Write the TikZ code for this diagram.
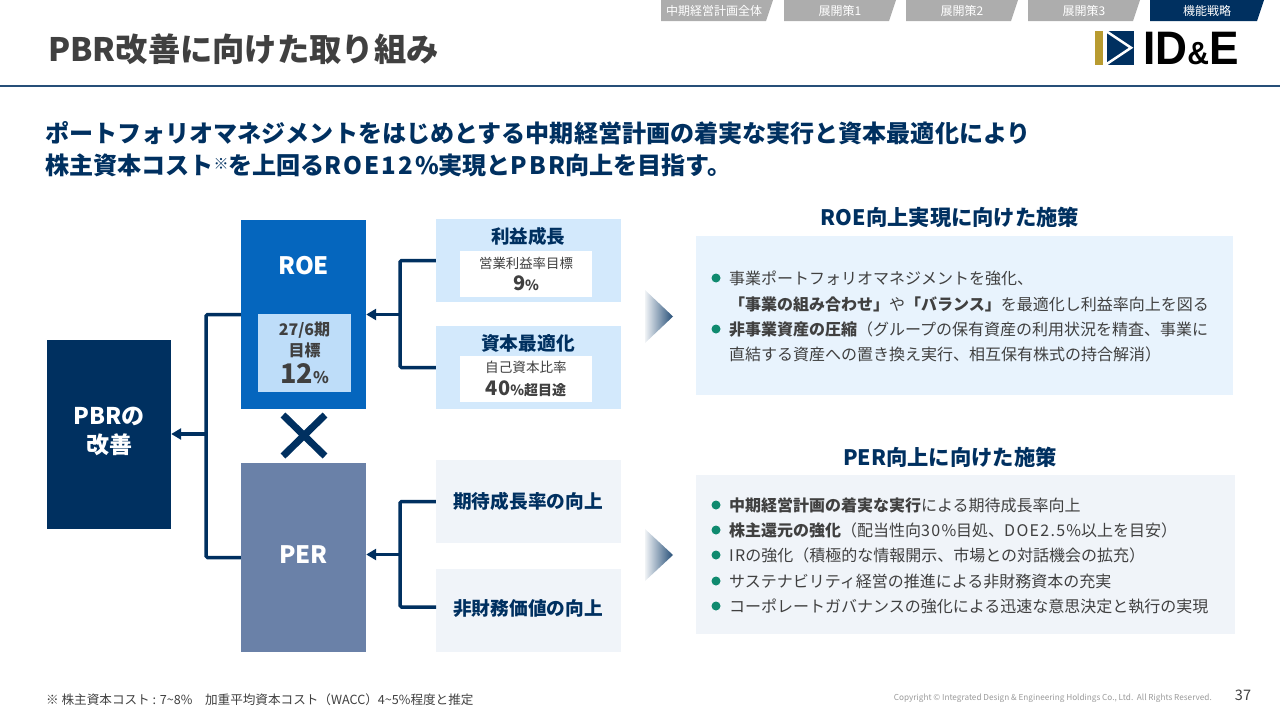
\documentclass[tikz,border=0pt]{standalone}
\usepackage{fontspec}
\setmainfont{Noto Sans CJK JP}
\newfontfamily\logofont{Liberation Sans}
\usetikzlibrary{arrows.meta}
\definecolor{navy}{HTML}{003060}
\definecolor{roeblue}{HTML}{0566BE}
\definecolor{perblue}{HTML}{6A81A8}
\definecolor{targetblue}{HTML}{BEDDF9}
\definecolor{lightblue}{HTML}{D3E9FC}
\definecolor{lightgray}{HTML}{F0F4F9}
\definecolor{panelblue}{HTML}{E8F3FD}
\definecolor{tabgray}{HTML}{ADADAD}
\definecolor{textgray}{HTML}{404040}
\definecolor{dotgreen}{HTML}{0F8A6F}
\definecolor{logogold}{HTML}{B89B30}
\newcommand{\fs}[1]{\fontsize{#1}{#1}\selectfont}
\newcommand{\wide}[1]{{\addfontfeature{LetterSpace=8}#1}}
\begin{document}
\begin{tikzpicture}[x=1pt,y=-1pt]
\tikzset{bigbox/.style={inner sep=0pt, minimum width=125pt, minimum height=189pt, text=white, align=center, font=\fs{24}\bfseries},
  sidebox/.style={inner sep=0pt, minimum width=185pt, minimum height=83pt},
  sidetext/.style={inner sep=0pt, text=navy, font=\fs{18.7}\bfseries},
  whitebox/.style={fill=white, inner sep=0pt, minimum width=132pt, minimum height=46pt, text=textgray},
  tabtext/.style={inner sep=0pt, text=white, font=\fs{12}},
  headtext/.style={inner sep=0pt, anchor=west, text=navy, font=\fs{24.07}\bfseries},
  paneltitle/.style={inner sep=0pt, text=navy, font=\fs{21.3}\bfseries},
  panelbox/.style={inner sep=0pt, minimum height=159pt},
  itemtext/.style={inner sep=0pt, anchor=west, text=textgray, font=\fs{16}},
  dot/.style={circle, fill=dotgreen, inner sep=0pt, minimum size=9pt},
  branch/.style={draw=navy, line width=3.5pt, rounded corners=1.5pt},
  tipline/.style={draw=navy, line width=3.5pt, -{Triangle[length=10pt,width=11pt]}}}
\useasboundingbox (0,0) rectangle (1280,720);
% header
\fill[tabgray] (661,0) -- (773,0) -- (766,21) -- (661,21) -- cycle;
\fill[tabgray] (784,0) -- (896,0) -- (889,21) -- (784,21) -- cycle;
\fill[tabgray] (906,0) -- (1018,0) -- (1011,21) -- (906,21) -- cycle;
\fill[tabgray] (1028,0) -- (1140,0) -- (1133,21) -- (1028,21) -- cycle;
\fill[navy] (1150,0) -- (1264,0) -- (1257,21) -- (1150,21) -- cycle;
\node[tabtext] (tab1) at (714,10.5) {中期経営計画全体};
\node[tabtext] (tab2) at (840,10.5) {展開策1};
\node[tabtext] (tab3) at (962,10.5) {展開策2};
\node[tabtext] (tab4) at (1084,10.5) {展開策3};
\node[tabtext] (tab5) at (1207,10.5) {機能戦略};
\node[inner sep=0pt, anchor=west, text=textgray, font=\fs{32.3}\bfseries] (title) at (48,49) {PBR改善に向けた取り組み};
\fill[logogold] (1095,31) rectangle (1102.5,64.5);
\fill[navy] (1107,31) rectangle (1134,64.5);
\draw[white, line width=2.5pt] (1106,31) -- (1131,47.75) -- (1106,64.5);
\node[inner sep=0pt, anchor=west, xscale=.94, text=black, font=\logofont\fs{47}\bfseries] (logo) at (1143,48) {ID{\fs{32}\&}E};
\draw[navy!85, line width=1.5pt] (0,86) -- (1280,86);
\node[headtext] (head1) at (45,133) {ポートフォリオマネジメントをはじめとする中期経営計画の着実な実行と資本最適化により};
\node[headtext] (head2) at (45,165) {株主資本コスト\raisebox{5pt}{\fs{15}※}を上回る\wide{ROE12\%}実現と\wide{PBR}向上を目指す。};
% left part
\node[bigbox, fill=navy, minimum width=124pt, font=\fs{23}\bfseries] (pbr) at (109,434) {};
\node[inner sep=0pt, text=white, align=center, font=\fs{23}\bfseries] (pbrtext) at (109,431) {PBRの\\[6pt]改善};
\node[bigbox, fill=roeblue] (roe) at (303.5,314.5) {};
\node[inner sep=0pt, text=white, font=\fs{24}\bfseries] (roetext) at (303.5,266) {ROE};
\node[bigbox, fill=perblue] (per) at (303.5,557.5) {};
\node[inner sep=0pt, text=white, font=\fs{24}\bfseries] (pertext) at (303.5,555) {PER};
\node[inner sep=0pt, fill=targetblue, minimum width=93pt, minimum height=78pt, text=textgray, align=center, font=\fs{16}\bfseries] (target) at (304.5,353) {27/6期\\[3pt]目標\\[5pt]{\fs{27}12}\%};
\draw[navy, line width=7pt] (283,415) -- (325,456);
\draw[navy, line width=7pt] (325,415) -- (283,456);
\node[sidebox, fill=lightblue] (rieki) at (528.5,260.5) {};
\node[sidebox, fill=lightblue] (shihon) at (528.5,367.5) {};
\node[sidetext, font=\fs{18.5}\bfseries] (riekititle) at (528,236) {利益成長};
\node[sidetext] (shihontitle) at (528,343) {資本最適化};
\node[whitebox, align=center, font=\fs{13.4}] (riekival) at (526,274) {営業利益率目標\\[5pt]{\bfseries\fs{20}9\fs{14}\%}};
\node[whitebox, align=center, font=\fs{13.6}] (shihonval) at (526,379) {自己資本比率\\[6pt]{\bfseries\fs{20}40\fs{14}\%超目途}};
\node[sidebox, fill=lightgray] (kitai) at (528.5,501.5) {};
\node[sidebox, fill=lightgray] (hizaimu) at (528.5,610.5) {};
\node[sidetext] (kitaitext) at (528,501) {期待成長率の向上};
\node[sidetext] (hizaimutext) at (528,608.5) {非財務価値の向上};
% connectors
\coordinate (pbrjoint) at (206,434);
\coordinate (roejoint) at (400,314.5);
\coordinate (perjoint) at (400,554.5);
\coordinate (hizaimuend) at (436,607);
\draw[branch] (roe.west) -- (pbrjoint |- roe.west) -- (pbrjoint |- per.west) -- (per.west);
\draw[tipline] (pbrjoint) -- (pbr.east |- pbrjoint);
\draw[branch] (rieki.west) -- (roejoint |- rieki.west) -- (roejoint |- shihon.west) -- (shihon.west);
\draw[tipline] (roejoint) -- (roe.east);
\draw[branch] (kitai.west) -- (perjoint |- kitai.west) -- (perjoint |- hizaimuend) -- (hizaimuend);
\draw[tipline] (perjoint) -- (per.east |- perjoint);
\shade[left color=navy!6, right color=navy!85] (645,290) -- (673,316.5) -- (645,343) -- cycle;
\shade[left color=navy!6, right color=navy!85] (645,529) -- (673,555) -- (645,581) -- cycle;
% right panels
\node[paneltitle] (roetitle) at (950,217) {ROE向上実現に向けた施策};
\node[panelbox, fill=panelblue, minimum width=537pt] (roepanel) at (964.5,315.5) {};
\node[dot] (d1) at (716,278) {};
\node[itemtext] (t1) at (729,278) {事業ポートフォリオマネジメントを強化、};
\node[itemtext] (t2) at (729,304) {\textbf{「事業の組み合わせ」}や\textbf{「バランス」}を最適化し利益率向上を図る};
\node[dot] (d2) at (716,329) {};
\node[itemtext] (t3) at (729,329) {\textbf{非事業資産の圧縮}（グループの保有資産の利用状況を精査、事業に};
\node[itemtext] (t4) at (729,354) {直結する資産への置き換え実行、相互保有株式の持合解消）};
\node[paneltitle] (pertitle) at (950,457) {PER向上に向けた施策};
\node[panelbox, fill=lightgray, minimum width=539pt] (perpanel) at (965.5,554.5) {};
\node[dot] (d3) at (716,505) {};
\node[itemtext] (t5) at (729,505) {\textbf{中期経営計画の着実な実行}による期待成長率向上};
\node[dot] (d4) at (716,530) {};
\node[itemtext] (t6) at (729,530) {\textbf{株主還元の強化}（配当性向\wide{30\%}目処、\wide{DOE2.5\%}以上を目安）};
\node[dot] (d5) at (716,555) {};
\node[itemtext] (t7) at (729,555) {\wide{IR}の強化（積極的な情報開示、市場との対話機会の拡充）};
\node[dot] (d6) at (716,581) {};
\node[itemtext] (t8) at (729,581) {サステナビリティ経営の推進による非財務資本の充実};
\node[dot] (d7) at (716,606) {};
\node[itemtext] (t9) at (729,606) {コーポレートガバナンスの強化による迅速な意思決定と執行の実現};
% footer
\node[inner sep=0pt, anchor=west, text=textgray, font=\fs{12.6}] (note) at (46,700) {※ 株主資本コスト : 7\textasciitilde8\%\quad 加重平均資本コスト（WACC）4\textasciitilde5\%程度と推定};
\node[inner sep=0pt, anchor=east, text=black!40, font=\fs{8.2}] (copy) at (1212,698) {Copyright © Integrated Design \& Engineering Holdings Co., Ltd.\ \ All Rights Reserved.};
\node[inner sep=0pt, text=textgray, font=\fs{14.5}] (page) at (1243,695) {37};
\end{tikzpicture}
\end{document}
